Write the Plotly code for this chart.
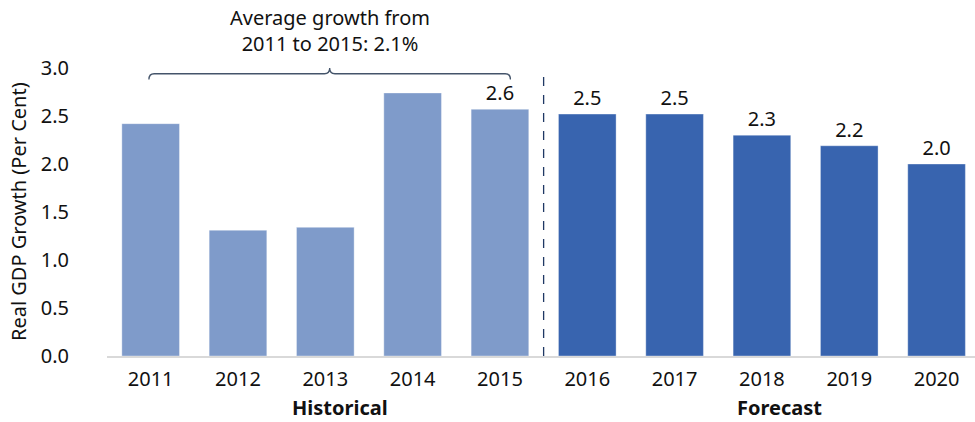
import plotly.graph_objects as go

# Real GDP growth, historical and forecast years
years = ["2011", "2012", "2013", "2014", "2015", "2016", "2017", "2018", "2019", "2020"]
growth = [2.42, 1.31, 1.34, 2.74, 2.57, 2.52, 2.52, 2.30, 2.19, 2.00]
period = ["Historical"] * 5 + ["Forecast"] * 5
labelled = [False, False, False, False, True, True, True, True, True, True]
y_ticks = [0.0, 0.5, 1.0, 1.5, 2.0, 2.5, 3.0]

HIST_COLOR = "#7F9BCA"
FCST_COLOR = "#3864AF"
FONT = "Noto Sans"
TXT = "#111111"
FS = 20

colors = [HIST_COLOR if p == "Historical" else FCST_COLOR for p in period]
texts = [f"{v:.1f}" if show else "" for v, show in zip(growth, labelled)]

fig = go.Figure()
fig.add_trace(go.Bar(
    x=years, y=growth,
    marker=dict(color=colors, line=dict(color="rgba(255,255,255,0.35)", width=1)),
    text=texts, textposition="outside", cliponaxis=False,
    textfont=dict(family=FONT, size=FS, color=TXT),
    hoverinfo="x+y",
))

# dashed divider between historical and forecast years
fig.add_shape(type="line", xref="x", yref="paper", x0=4.5, x1=4.5, y0=0, y1=1,
              line=dict(color="#1F3864", width=1.3, dash="dash"))

# curly bracket over 2011-2015
x0, x1, xc = -0.02, 4.12, 2.05
yb, ye, yt = 2.94, 2.88, 3.0
d = 0.06
path = (f"M {x0},{ye} Q {x0},{yb} {x0 + d},{yb} L {xc - d},{yb} "
        f"Q {xc},{yb} {xc},{yt} Q {xc},{yb} {xc + d},{yb} "
        f"L {x1 - d},{yb} Q {x1},{yb} {x1},{ye}")
fig.add_shape(type="path", xref="x", yref="y", path=path,
              line=dict(color="#44546A", width=1.3))

fig.add_annotation(text="Average growth from<br>2011 to 2015: 2.1%",
                   xref="x", yref="paper", x=2.05, y=1.13, yanchor="middle",
                   showarrow=False, font=dict(family=FONT, size=FS, color=TXT),
                   align="center")

# period labels under the year ticks
fig.add_annotation(text="<b>Historical</b>", xref="x", yref="paper", x=2.17, y=-0.178,
                   yanchor="middle", showarrow=False,
                   font=dict(family=FONT, size=FS, color=TXT))
fig.add_annotation(text="<b>Forecast</b>", xref="x", yref="paper", x=7.2, y=-0.178,
                   yanchor="middle", showarrow=False,
                   font=dict(family=FONT, size=FS, color=TXT))

# y-axis title
fig.add_annotation(text="Real GDP Growth (Per Cent)", textangle=-90,
                   xref="paper", yref="paper", x=-0.1025, y=0.5,
                   xanchor="center", yanchor="middle", showarrow=False,
                   font=dict(family=FONT, size=FS, color=TXT))

fig.update_layout(
    width=975, height=422,
    margin=dict(l=107, r=0, t=68, b=66),
    paper_bgcolor="white", plot_bgcolor="white",
    bargap=0.34, showlegend=False,
    font=dict(family=FONT, size=FS, color=TXT),
    xaxis=dict(type="category", range=[-0.5, 9.44], showgrid=False,
               showline=True, linecolor="#D9D9D9", linewidth=2, ticks="",
               ticklabelstandoff=4,
               tickfont=dict(family=FONT, size=FS, color=TXT)),
    yaxis=dict(range=[0, 3], tickvals=y_ticks, ticktext=[f"{v:.1f}" for v in y_ticks],
               showgrid=False, zeroline=False, showline=False, ticks="",
               ticklabelstandoff=37,
               tickfont=dict(family=FONT, size=FS, color=TXT)),
)

fig.write_html("out.html")
